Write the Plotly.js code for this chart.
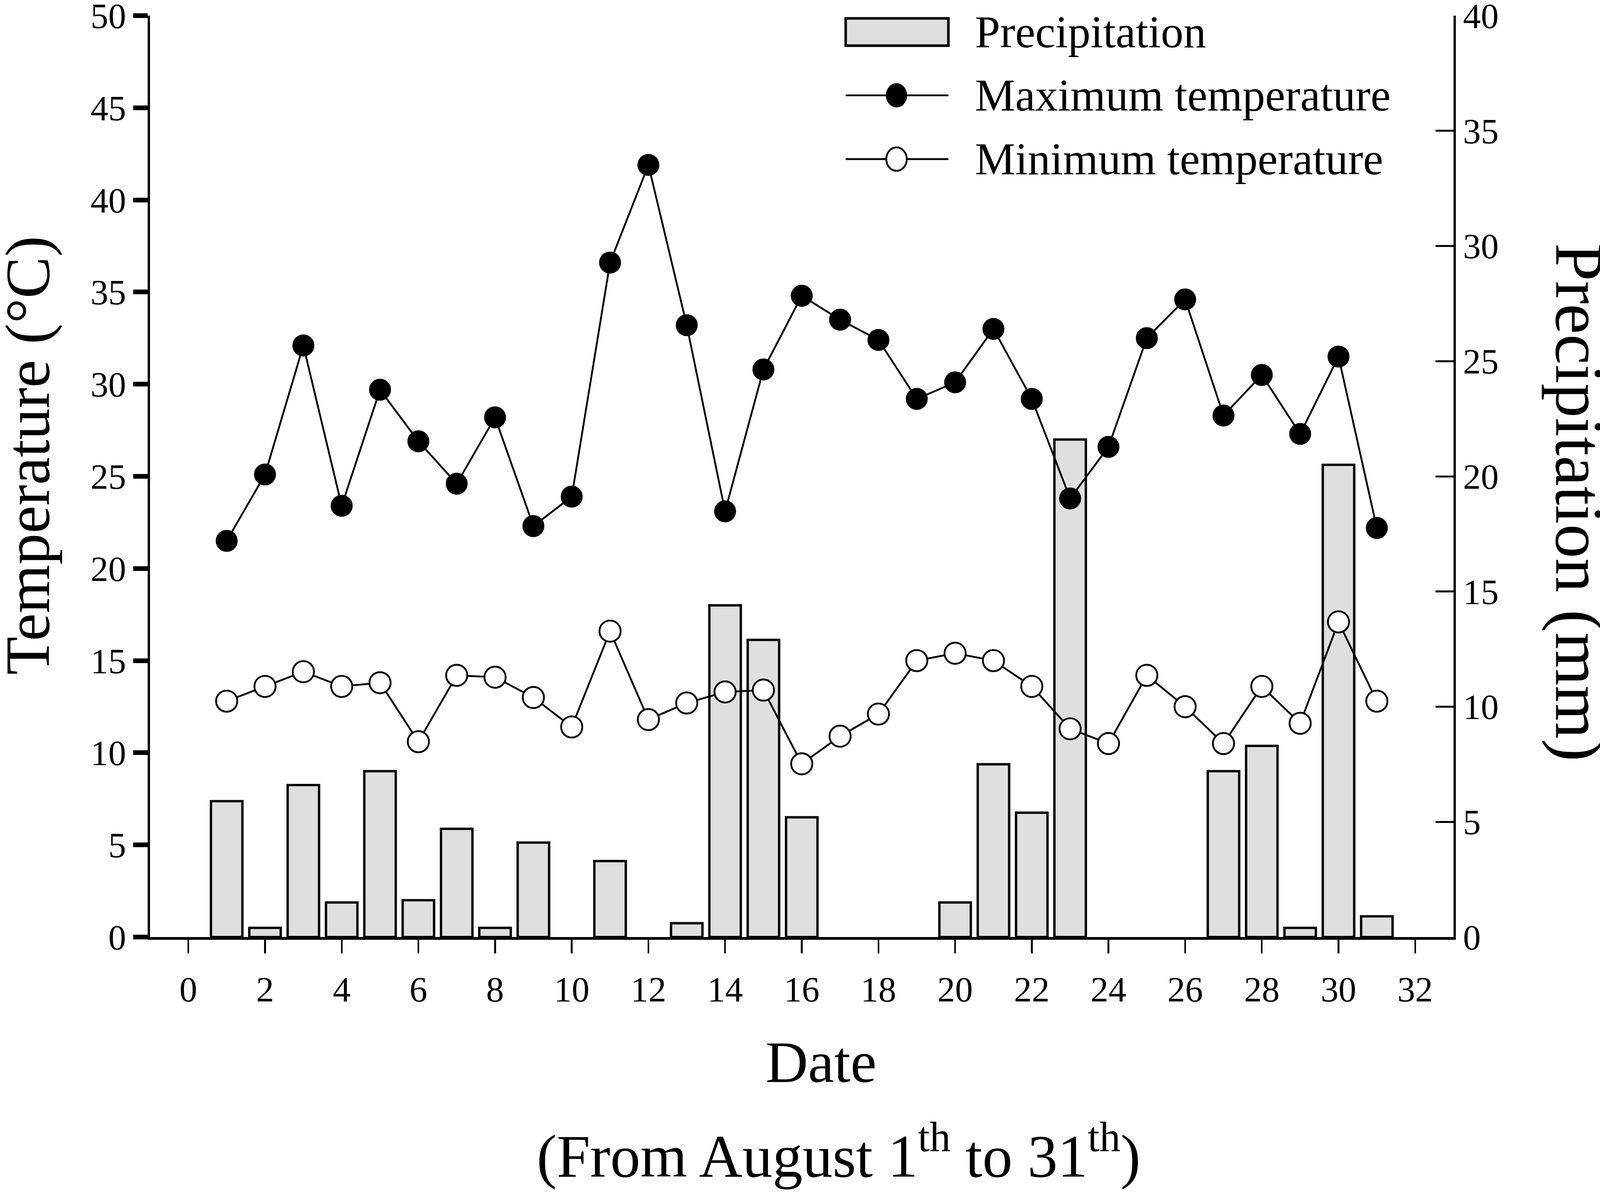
<!DOCTYPE html>
<html>
<head>
<meta charset="utf-8">
<script src="https://cdn.plot.ly/plotly-3.0.1.min.js"></script>
<style>
  html, body { margin: 0; padding: 0; background: #ffffff; overflow: hidden; }
  #chart { position: absolute; left: 0; top: 0; }
</style>
</head>
<body>
<div id="chart"></div>
<script>
// ---- data ----
const days = [1,2,3,4,5,6,7,8,9,10,11,12,13,14,15,16,17,18,19,20,21,22,23,24,25,26,27,28,29,30,31];
const maxTemp = [21.5,25.1,32.1,23.4,29.7,26.9,24.6,28.2,22.3,23.9,36.6,41.9,33.2,23.1,30.8,34.8,33.5,32.4,29.2,30.1,33.0,29.2,23.8,26.6,32.5,34.6,28.3,30.5,27.3,31.5,22.2];
const minTemp = [12.8,13.6,14.4,13.6,13.8,10.6,14.2,14.1,13.0,11.4,16.6,11.8,12.7,13.3,13.4,9.4,10.9,12.1,15.0,15.4,15.0,13.6,11.3,10.5,14.2,12.5,10.5,13.6,11.6,17.1,12.8];
const precip = [5.9,0.4,6.6,1.5,7.2,1.6,4.7,0.4,4.1,0,3.3,0,0.6,14.4,12.9,5.2,0,0,0,1.5,7.5,5.4,21.6,0,0,0,7.2,8.3,0.4,20.5,0.9];
const xTicks = [0,2,4,6,8,10,12,14,16,18,20,22,24,26,28,30,32];
const tempTicks = [0,5,10,15,20,25,30,35,40,45,50];
const precipTicks = [0,5,10,15,20,25,30,35,40];
const seriesNames = ['Precipitation', 'Maximum temperature', 'Minimum temperature'];

// ---- sizing: designed at 4685x3053, fitted to the real viewport ----
const W = window.innerWidth || 4685, H = window.innerHeight || 3053;
const kx = W / 4685, ky = H / 3053;
const sx = v => v * kx;            // horizontal lengths
const sy = v => v * ky;            // vertical lengths
const kf = Math.sqrt(kx * ky) * 0.975; // horizontal text
const fs = v => v * kf;
const sm = v => v * Math.sqrt(kx * ky); // isotropic sizes (markers, lines)

const FONT = '"Liberation Serif", "Times New Roman", Times, serif';
const BAR_FILL = '#dfdfdf';

const traces = [
  {
    type: 'bar', name: seriesNames[0], x: days, y: precip.map(v => (v > 0 ? v : null)),
    xaxis: 'x', yaxis: 'y', width: 0.82,
    marker: { color: BAR_FILL, line: { color: '#000', width: sm(6.5) } },
    showlegend: false, hoverinfo: 'skip'
  },
  {
    type: 'scatter', mode: 'lines+markers', name: seriesNames[1], x: days, y: maxTemp,
    xaxis: 'x', yaxis: 'y2',
    line: { color: '#000', width: sm(5) },
    marker: { size: sm(58), color: '#000', line: { color: '#000', width: sm(2) } },
    showlegend: false, hoverinfo: 'skip', cliponaxis: false
  },
  {
    type: 'scatter', mode: 'lines+markers', name: seriesNames[2], x: days, y: minTemp,
    xaxis: 'x', yaxis: 'y2',
    line: { color: '#000', width: sm(5) },
    marker: { size: sm(58), color: '#fff', line: { color: '#000', width: sm(5) } },
    showlegend: false, hoverinfo: 'skip', cliponaxis: false
  }
];

// custom legend (paper coordinates)
const legX0 = 0.5337, legX1 = 0.6125, legMid = 0.5727, legTextX = 0.6324;
const rowY = [0.982, 0.9135, 0.8443];
const rx = sx(30), ry = sy(30);
const shapes = [
  { type: 'rect', xref: 'paper', yref: 'paper', x0: legX0, x1: legX1, y0: 0.9674, y1: 0.9970,
    fillcolor: BAR_FILL, line: { color: '#000', width: sm(7) } },
  { type: 'line', xref: 'paper', yref: 'paper', x0: legX0, x1: legX1, y0: rowY[1], y1: rowY[1],
    line: { color: '#000', width: sm(5) } },
  { type: 'circle', xref: 'paper', yref: 'paper', xsizemode: 'pixel', ysizemode: 'pixel',
    xanchor: legMid, yanchor: rowY[1], x0: -rx, x1: rx, y0: -ry, y1: ry,
    fillcolor: '#000', line: { color: '#000', width: sm(2) } },
  { type: 'line', xref: 'paper', yref: 'paper', x0: legX0, x1: legX1, y0: rowY[2], y1: rowY[2],
    line: { color: '#000', width: sm(5) } },
  { type: 'circle', xref: 'paper', yref: 'paper', xsizemode: 'pixel', ysizemode: 'pixel',
    xanchor: legMid, yanchor: rowY[2], x0: -rx, x1: rx, y0: -ry, y1: ry,
    fillcolor: '#fff', line: { color: '#000', width: sm(5) } }
];

const annotations = [
  { text: seriesNames[0], x: legTextX, y: rowY[0] },
  { text: seriesNames[1], x: legTextX, y: rowY[1] },
  { text: seriesNames[2], x: legTextX, y: rowY[2] }
].map(a => Object.assign({ xref: 'paper', yref: 'paper', xanchor: 'left', yanchor: 'middle',
  showarrow: false, font: { family: FONT, size: fs(127), color: '#000' } }, a));

annotations.push(
  { text: 'Temperature (°C)', xref: 'paper', yref: 'paper', x: -0.0938, y: 0.5229,
    textangle: -90, xanchor: 'center', yanchor: 'middle', showarrow: false,
    font: { family: FONT, size: sy(160), color: '#000' } },
  { text: 'Precipitation (mm)', xref: 'paper', yref: 'paper', x: 1.0965, y: 0.472,
    textangle: 90, xanchor: 'center', yanchor: 'middle', showarrow: false,
    font: { family: FONT, size: sy(175), color: '#000' } },
  { text: 'Date', xref: 'paper', yref: 'paper', x: 0.5148, y: -0.1361,
    xanchor: 'center', yanchor: 'middle', showarrow: false,
    font: { family: FONT, size: fs(165), color: '#000' } },
  { text: '(From August 1<sup>th</sup> to 31<sup>th</sup>)', xref: 'paper', yref: 'paper', x: 0.5284, y: -0.233,
    xanchor: 'center', yanchor: 'middle', showarrow: false,
    font: { family: FONT, size: fs(169), color: '#000' } }
);

const tickFont = { family: FONT, size: fs(100), color: '#000' };

const layout = {
  width: W, height: H,
  margin: { l: sx(439), r: sx(429), t: sy(40), b: sy(655), pad: 0 },
  paper_bgcolor: '#fff', plot_bgcolor: '#fff',
  showlegend: false,
  font: { family: FONT, color: '#000' },
  bargap: 0,
  xaxis: {
    range: [-1, 33], tickmode: 'array', tickvals: xTicks, ticktext: xTicks.map(String),
    showgrid: false, zeroline: false,
    showline: true, linecolor: '#000', linewidth: sy(7),
    ticks: 'outside', ticklen: sy(35), tickwidth: sx(5), tickcolor: '#000',
    tickfont: tickFont, ticklabelstandoff: sy(14), ticklabeloverflow: 'allow'
  },
  yaxis: {
    range: [0, 40], side: 'right', tickmode: 'array', tickvals: precipTicks, ticktext: precipTicks.map(String),
    showgrid: false, zeroline: false,
    showline: true, linecolor: '#000', linewidth: sx(7),
    ticks: 'inside', ticklen: sx(53), tickwidth: sy(5), tickcolor: '#000',
    tickfont: tickFont, ticklabelstandoff: sx(22), ticklabeloverflow: 'allow'
  },
  yaxis2: {
    range: [0, 50], side: 'left', overlaying: 'y', tickmode: 'array', tickvals: tempTicks, ticktext: tempTicks.map(String),
    showgrid: false, zeroline: false,
    showline: true, linecolor: '#000', linewidth: sx(7),
    ticks: 'outside', ticklen: sx(42), tickwidth: sy(12), tickcolor: '#000',
    tickfont: tickFont, ticklabeloverflow: 'allow'
  },
  shapes: shapes,
  annotations: annotations
};

const el = document.getElementById('chart');
el.style.width = W + 'px';
el.style.height = H + 'px';
Plotly.newPlot(el, traces, layout, { displayModeBar: false, staticPlot: true });
</script>
</body>
</html>
